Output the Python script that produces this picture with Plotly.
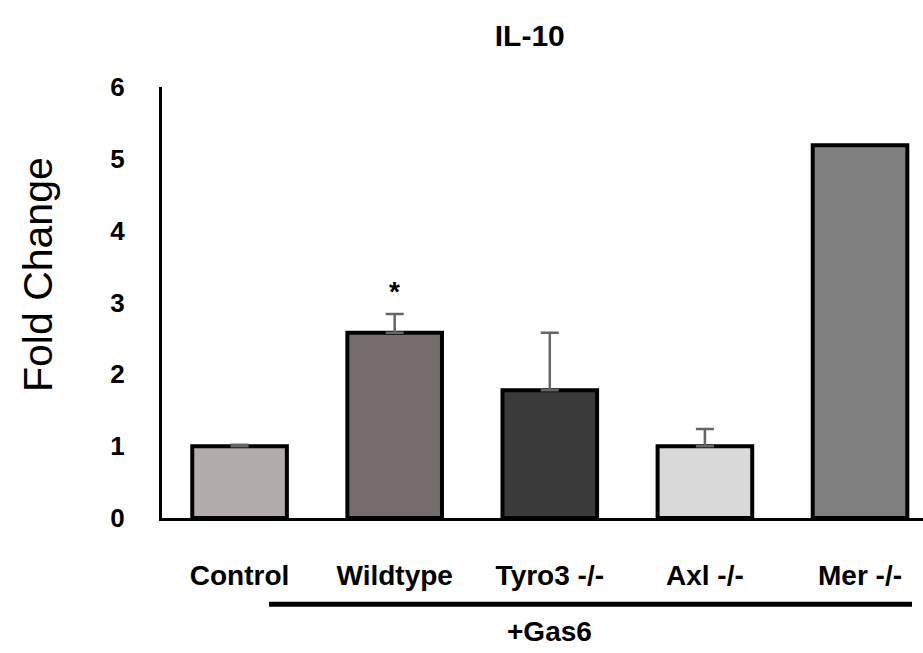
import plotly.graph_objects as go

categories = ["Control", "Wildtype", "Tyro3 -/-", "Axl -/-", "Mer -/-"]
values = [1.0, 2.58, 1.78, 1.0, 5.19]
# Mer -/- has no visible error bar
err_categories = ["Control", "Wildtype", "Tyro3 -/-", "Axl -/-"]
err_values = [1.0, 2.58, 1.78, 1.0]
errors = [0.02, 0.26, 0.80, 0.24]
colors = ["#b2acac", "#756c6c", "#3a3a3a", "#d9d9d9", "#808080"]
yticks = [0, 1, 2, 3, 4, 5, 6]

FONT_B = "Liberation Sans, Arial, sans-serif"

fig = go.Figure()
fig.add_trace(go.Bar(
    x=categories, y=values,
    marker=dict(color=colors, line=dict(color="black", width=4)),
    width=0.61,
    showlegend=False,
))
fig.add_trace(go.Scatter(
    x=err_categories, y=err_values, mode="markers",
    marker=dict(size=1, opacity=0),
    error_y=dict(type="data", array=errors, symmetric=False, arrayminus=[0]*4,
                 color="#666666", thickness=2.5, width=9, visible=True),
    showlegend=False, hoverinfo="skip",
))

fig.add_annotation(x=categories[1], y=values[1] + errors[1], text="<b>*</b>",
                   showarrow=False, yshift=22, font=dict(size=28, color="black", family=FONT_B))

# +Gas6 group bracket
fig.add_shape(type="line", xref="x", yref="paper", x0=0.19, x1=4.335, y0=-0.2, y1=-0.2,
              line=dict(color="black", width=5))
fig.add_annotation(xref="x", yref="paper", x=2.0, y=-0.264, yanchor="middle",
                   text="<b>+Gas6</b>", showarrow=False,
                   font=dict(size=28, color="black", family=FONT_B))

# y-axis title
fig.add_annotation(xref="paper", yref="paper", x=-0.163, y=0.566, textangle=-90,
                   text="Fold Change", showarrow=False, xanchor="center", yanchor="middle",
                   font=dict(size=41, color="black", family=FONT_B))

fig.update_layout(
    width=923, height=653,
    margin=dict(l=162, r=0, t=87, b=135),
    plot_bgcolor="white", paper_bgcolor="white",
    title=dict(text="<b>IL-10</b>", x=0.574, xanchor="center", y=0.946, yanchor="middle",
               font=dict(size=30, color="black", family=FONT_B)),
)
fig.update_xaxes(
    range=[-0.5, 4.406], showline=True, linecolor="black", linewidth=3,
    showgrid=False, ticks="", ticklabelstandoff=30,
    tickfont=dict(size=28, color="black", family=FONT_B),
    tickvals=categories, ticktext=["<b>%s</b>" % c for c in categories],
)
fig.update_yaxes(
    range=[0, 6], showline=True, linecolor="black", linewidth=3,
    showgrid=False, zeroline=False, ticks="", ticklabelstandoff=29,
    tickfont=dict(size=26, color="black", family=FONT_B),
    tickvals=yticks, ticktext=["<b>%d</b>" % t for t in yticks],
)

fig.write_html("out.html", config={"displayModeBar": False},
               post_script="document.body.style.margin='0';")
